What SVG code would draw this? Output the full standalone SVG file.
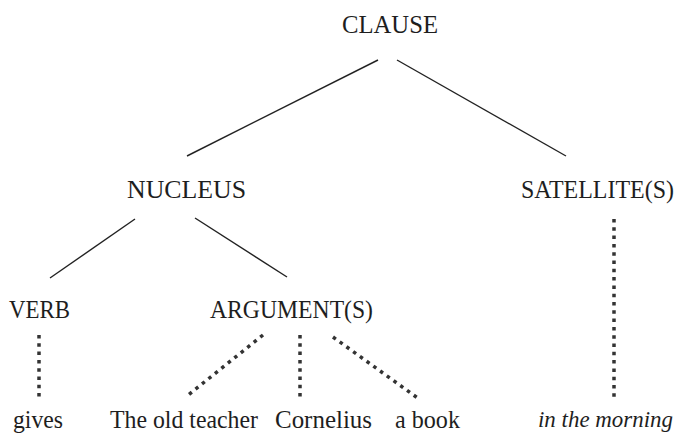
<svg xmlns="http://www.w3.org/2000/svg" width="680" height="435" viewBox="0 0 680 435">
<style>
text{font-family:"Liberation Serif","Times New Roman",serif;font-size:25px;fill:#1e1e1e}
.it{font-style:italic;font-size:23px}
.solid{stroke:#222;stroke-width:1.4;fill:none}
.dot{stroke:#333;stroke-width:3.5;fill:none;stroke-dasharray:3.5 4.8}
</style>
<rect width="680" height="435" fill="#fff"/>
<g id="connectors">
<line class="solid" x1="378" y1="60" x2="187" y2="156"/>
<line class="solid" x1="397" y1="60" x2="566" y2="156"/>
<line class="solid" x1="135" y1="219" x2="50" y2="278"/>
<line class="solid" x1="195" y1="218" x2="287" y2="277"/>
<line class="dot" x1="39" y1="335" x2="39" y2="398"/>
<line class="dot" x1="263" y1="335" x2="187" y2="396"/>
<line class="dot" x1="300" y1="335" x2="300" y2="398"/>
<line class="dot" x1="333" y1="337" x2="419" y2="399"/>
<line class="dot" x1="614" y1="219" x2="614" y2="400"/>
</g>
<g id="clause"><text x="342" y="33" textLength="96" lengthAdjust="spacingAndGlyphs">CLAUSE</text></g>
<g id="nucleus"><text x="127" y="198" textLength="119" lengthAdjust="spacingAndGlyphs">NUCLEUS</text></g>
<g id="satellites"><text x="521" y="198" textLength="153" lengthAdjust="spacingAndGlyphs">SATELLITE(S)</text></g>
<g id="verb"><text x="9" y="318" textLength="61" lengthAdjust="spacingAndGlyphs">VERB</text></g>
<g id="arguments"><text x="210" y="318" textLength="163" lengthAdjust="spacingAndGlyphs">ARGUMENT(S)</text></g>
<g id="gives"><text x="13" y="428" textLength="50" lengthAdjust="spacingAndGlyphs">gives</text></g>
<g id="old-teacher"><text x="110" y="428" textLength="148" lengthAdjust="spacingAndGlyphs">The old teacher</text></g>
<g id="cornelius"><text x="275" y="428" textLength="97" lengthAdjust="spacingAndGlyphs">Cornelius</text></g>
<g id="a-book"><text x="395" y="428" textLength="65" lengthAdjust="spacingAndGlyphs">a book</text></g>
<g id="in-the-morning"><text class="it" x="538" y="427" textLength="135" lengthAdjust="spacingAndGlyphs">in the morning</text></g>
</svg>
